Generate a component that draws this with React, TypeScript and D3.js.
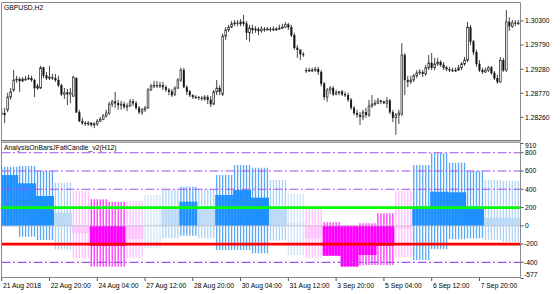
import React from "react";
import * as d3 from "d3";

// GBPUSD H2 candles: [open, high, low, close]
const gbpusdOHLC: [number, number, number, number][] = [
  [1.2835,1.2844,1.2829,1.2835],[1.2835,1.2846,1.2814,1.2831],[1.2842,1.2878,1.2837,1.2869],[1.2869,1.2888,1.2863,1.2880],
  [1.2884,1.2926,1.2880,1.2905],[1.2905,1.2914,1.2899,1.2907],[1.2907,1.2911,1.2880,1.2903],[1.2903,1.2911,1.2901,1.2907],
  [1.2907,1.2914,1.2903,1.2907],[1.2907,1.2916,1.2905,1.2909],[1.2909,1.2914,1.2901,1.2905],[1.2905,1.2907,1.2869,1.2888],
  [1.2888,1.2897,1.2884,1.2892],[1.2888,1.2935,1.2886,1.2931],[1.2931,1.2933,1.2909,1.2914],[1.2914,1.2922,1.2905,1.2909],
  [1.2909,1.2935,1.2905,1.2911],[1.2911,1.2918,1.2905,1.2909],[1.2909,1.2918,1.2901,1.2905],[1.2905,1.2914,1.2890,1.2894],
  [1.2894,1.2897,1.2871,1.2875],[1.2875,1.2888,1.2865,1.2878],[1.2878,1.2886,1.2852,1.2875],[1.2875,1.2888,1.2856,1.2878],
  [1.2871,1.2914,1.2869,1.2911],[1.2909,1.2911,1.2835,1.2837],[1.2837,1.2842,1.2816,1.2818],[1.2818,1.2825,1.2810,1.2814],
  [1.2814,1.2818,1.2808,1.2812],[1.2812,1.2818,1.2808,1.2814],[1.2814,1.2816,1.2806,1.2810],[1.2810,1.2816,1.2803,1.2812],
  [1.2812,1.2822,1.2808,1.2818],[1.2818,1.2827,1.2816,1.2822],[1.2822,1.2833,1.2820,1.2829],[1.2829,1.2842,1.2825,1.2835],
  [1.2835,1.2859,1.2831,1.2854],[1.2854,1.2863,1.2848,1.2859],[1.2859,1.2880,1.2846,1.2856],[1.2856,1.2863,1.2842,1.2852],
  [1.2852,1.2861,1.2842,1.2854],[1.2854,1.2859,1.2844,1.2848],[1.2848,1.2856,1.2839,1.2850],[1.2850,1.2865,1.2848,1.2859],
  [1.2859,1.2865,1.2850,1.2856],[1.2856,1.2861,1.2842,1.2846],[1.2846,1.2850,1.2833,1.2837],[1.2837,1.2846,1.2831,1.2842],
  [1.2842,1.2850,1.2837,1.2846],[1.2846,1.2888,1.2844,1.2884],[1.2884,1.2897,1.2882,1.2892],[1.2892,1.2903,1.2888,1.2894],
  [1.2894,1.2903,1.2888,1.2892],[1.2892,1.2901,1.2888,1.2894],[1.2894,1.2901,1.2884,1.2890],[1.2890,1.2894,1.2880,1.2884],
  [1.2884,1.2888,1.2873,1.2880],[1.2880,1.2886,1.2869,1.2873],[1.2875,1.2892,1.2871,1.2888],[1.2888,1.2909,1.2886,1.2905],
  [1.2905,1.2931,1.2901,1.2926],[1.2926,1.2931,1.2888,1.2890],[1.2890,1.2894,1.2873,1.2880],[1.2880,1.2884,1.2869,1.2873],
  [1.2873,1.2875,1.2865,1.2869],[1.2869,1.2873,1.2865,1.2869],[1.2869,1.2871,1.2863,1.2867],[1.2867,1.2871,1.2861,1.2865],
  [1.2865,1.2873,1.2861,1.2869],[1.2869,1.2873,1.2854,1.2863],[1.2863,1.2871,1.2848,1.2854],[1.2854,1.2884,1.2852,1.2880],
  [1.2880,1.2905,1.2873,1.2888],[1.2888,1.2894,1.2873,1.2880],[1.2875,1.3003,1.2871,1.2998],[1.2998,1.3017,1.2990,1.3011],
  [1.3011,1.3022,1.3007,1.3017],[1.3017,1.3030,1.3015,1.3024],[1.3024,1.3032,1.3019,1.3026],[1.3026,1.3032,1.3019,1.3024],
  [1.3024,1.3034,1.3019,1.3028],[1.3028,1.3043,1.3019,1.3024],[1.3024,1.3030,1.2990,1.3005],[1.3005,1.3022,1.2986,1.3015],
  [1.3015,1.3022,1.3003,1.3011],[1.3011,1.3019,1.3005,1.3013],[1.3013,1.3017,1.3000,1.3009],[1.3009,1.3019,1.3005,1.3013],
  [1.3013,1.3017,1.3007,1.3011],[1.3011,1.3017,1.3009,1.3013],[1.3013,1.3017,1.3007,1.3011],[1.3011,1.3019,1.3009,1.3013],
  [1.3013,1.3017,1.3009,1.3013],[1.3013,1.3022,1.3011,1.3015],[1.3015,1.3024,1.3013,1.3017],[1.3017,1.3028,1.3015,1.3022],
  [1.3022,1.3026,1.3011,1.3017],[1.3017,1.3022,1.2996,1.3000],[1.3000,1.3005,1.2969,1.2973],[1.2973,1.2979,1.2952,1.2969],
  [1.2969,1.2969,1.2947,1.2960],[1.2960,1.2964,1.2954,1.2958],[1.2926,1.2931,1.2920,1.2924],[1.2924,1.2931,1.2922,1.2926],
  [1.2926,1.2931,1.2922,1.2926],[1.2926,1.2933,1.2922,1.2928],[1.2928,1.2933,1.2916,1.2922],[1.2922,1.2926,1.2892,1.2897],
  [1.2897,1.2901,1.2863,1.2869],[1.2869,1.2888,1.2859,1.2884],[1.2884,1.2892,1.2875,1.2888],[1.2888,1.2892,1.2871,1.2875],
  [1.2875,1.2884,1.2873,1.2878],[1.2878,1.2882,1.2873,1.2880],[1.2880,1.2884,1.2871,1.2875],[1.2875,1.2880,1.2869,1.2873],
  [1.2873,1.2878,1.2859,1.2863],[1.2863,1.2867,1.2842,1.2846],[1.2846,1.2850,1.2831,1.2835],[1.2835,1.2842,1.2825,1.2831],
  [1.2831,1.2837,1.2810,1.2827],[1.2827,1.2842,1.2820,1.2837],[1.2837,1.2846,1.2825,1.2831],[1.2831,1.2863,1.2827,1.2850],
  [1.2850,1.2873,1.2846,1.2854],[1.2854,1.2863,1.2850,1.2856],[1.2856,1.2867,1.2854,1.2861],[1.2861,1.2863,1.2854,1.2859],
  [1.2859,1.2861,1.2854,1.2856],[1.2856,1.2869,1.2846,1.2861],[1.2861,1.2865,1.2833,1.2837],[1.2837,1.2842,1.2816,1.2825],
  [1.2825,1.2835,1.2789,1.2831],[1.2831,1.2842,1.2812,1.2835],[1.2833,1.2983,1.2829,1.2958],[1.2958,1.2962,1.2873,1.2905],
  [1.2905,1.2914,1.2890,1.2901],[1.2901,1.2914,1.2897,1.2905],[1.2905,1.2918,1.2901,1.2914],[1.2914,1.2926,1.2909,1.2920],
  [1.2920,1.2928,1.2916,1.2922],[1.2922,1.2926,1.2911,1.2918],[1.2918,1.2937,1.2914,1.2931],[1.2931,1.2958,1.2926,1.2941],
  [1.2941,1.2962,1.2926,1.2931],[1.2931,1.2952,1.2926,1.2939],[1.2939,1.2952,1.2935,1.2943],[1.2943,1.2947,1.2933,1.2937],
  [1.2937,1.2943,1.2926,1.2931],[1.2931,1.2935,1.2924,1.2928],[1.2928,1.2933,1.2922,1.2926],[1.2926,1.2931,1.2922,1.2924],
  [1.2924,1.2931,1.2922,1.2926],[1.2926,1.2937,1.2924,1.2931],[1.2931,1.2943,1.2926,1.2939],[1.2939,1.2954,1.2935,1.2947],
  [1.2947,1.3028,1.2943,1.3017],[1.3017,1.3022,1.2979,1.2986],[1.2986,1.2990,1.2958,1.2964],[1.2964,1.2969,1.2933,1.2939],
  [1.2939,1.2947,1.2922,1.2926],[1.2926,1.2931,1.2918,1.2922],[1.2922,1.2931,1.2920,1.2926],[1.2926,1.2935,1.2922,1.2931],
  [1.2931,1.2935,1.2916,1.2920],[1.2920,1.2924,1.2905,1.2909],[1.2909,1.2916,1.2897,1.2901],[1.2901,1.2954,1.2899,1.2947],
  [1.2947,1.2952,1.2922,1.2926],[1.2926,1.3053,1.2922,1.3028],[1.3028,1.3038,1.3009,1.3019],[1.3019,1.3032,1.3015,1.3026],
  [1.3026,1.3032,1.3019,1.3024],[1.3024,1.3032,1.3022,1.3026],
];

// AnalysisOnBarsJFatlCandle_v2 (H12 blocks, 6 H2 bars each)
const blockTone = ["SB","SB","SB","WB","WS","SS","SS","WS","FB","WB","SB","WB","SB","SB","SB","WB","FB","WS","SS","SS","SS","SS","WS","SB","SB","SB","SB","WB","WB"];
const blockBody = [556,465,326,143,-82,-221,-221,-145,15,195,264,195,337,392,308,205,38,-140,-327,-445,-320,-220,-30,209,373,367,209,89,89];
const blockHigh = [647,655,603,472,381,290,264,272,337,392,428,400,556,666,636,501,348,192,40,0,27,137,384,666,794,691,600,501,490];
const blockLow = [-5,-120,-155,-260,-356,-448,-448,-356,-246,-137,-108,-137,-265,-265,-301,-160,-320,-356,-330,-448,-429,-429,-345,-375,-254,-148,-137,-155,-174];

const priceTicks = [1.303, 1.2979, 1.2928, 1.2877, 1.2826];
const indTicks = [910, 800, 600, 400, 200, 0, -200, -400, -577];
const dashLevels = [800, 600, 400, -400];
const timeTicks: [number, string][] = [
  [0, "21 Aug 2018"], [16, "22 Aug 20:00"], [32, "24 Aug 04:00"], [48, "27 Aug 12:00"],
  [64, "28 Aug 20:00"], [80, "30 Aug 04:00"], [96, "31 Aug 12:00"], [112, "3 Sep 20:00"],
  [128, "5 Sep 04:00"], [144, "6 Sep 12:00"], [160, "7 Sep 20:00"],
];

const toneBody: Record<string, string> = { SB: "#1e90ff", WB: "#bcdaf7", FB: "#dceafa", WS: "#ffc6ff", SS: "#ff00ff" };
const toneWick: Record<string, string> = { SB: "#5aa8f5", WB: "#aed2f5", FB: "#d0e4f9", WS: "#ffbcff", SS: "#ff30ff" };

export default function App() {
  const W = 560, H = 294;
  const n = gbpusdOHLC.length;
  const x = d3.scaleLinear().domain([0, n - 1]).range([1.7, 1.7 + 2.986 * (n - 1)]);
  const yP = d3.scaleLinear().domain([1.2778, 1.30702]).range([140, 2]);
  const yI = d3.scaleLinear().domain([-577, 910]).range([278.5, 142.7]);
  const font = "'Liberation Sans', Arial, sans-serif";
  const fs = 6.8;
  const right = 520.5;

  return (
    <svg width={W} height={H} style={{ position: "absolute", left: 0, top: 0, background: "#fff" }}>
      <defs>
        <clipPath id="cpU"><rect x={1.5} y={2.5} width={right - 1.5} height={137.5} /></clipPath>
        <clipPath id="cpL"><rect x={1.5} y={143} width={right - 1.5} height={134.5} /></clipPath>
      </defs>
      <rect x={0} y={0} width={W} height={H} fill="#fff" />

      {/* upper pane candles */}
      <g clipPath="url(#cpU)">
        {gbpusdOHLC.map(([o, h, l, c], i) => {
          const cx = x(i);
          const bull = c >= o;
          const top = yP(Math.max(o, c));
          const bot = yP(Math.min(o, c));
          return (
            <g key={i}>
              <line x1={cx} x2={cx} y1={yP(h)} y2={yP(l)} stroke="#222" strokeWidth={0.85} />
              <rect x={cx - 0.85} y={top} width={1.7} height={Math.max(bot - top, 0.8)}
                fill={bull ? "#fff" : "#111"} stroke="#222" strokeWidth={bull ? 0.7 : 0.3} />
            </g>
          );
        })}
      </g>

      {/* lower pane histogram */}
      <g clipPath="url(#cpL)">
        {gbpusdOHLC.map((_, i) => {
          const b = Math.floor(i / 6);
          const cx = x(i);
          return (
            <line key={"w" + i} x1={cx} x2={cx} y1={yI(blockHigh[b])} y2={yI(blockLow[b])}
              stroke={toneWick[blockTone[b]]} strokeWidth={1.3} />
          );
        })}
        {gbpusdOHLC.map((_, i) => {
          const b = Math.floor(i / 6);
          const cx = x(i);
          const y0 = yI(0), y1 = yI(blockBody[b]);
          return (
            <rect key={"b" + i} x={cx - 1.5} width={3.05} y={Math.min(y0, y1)} height={Math.abs(y1 - y0)}
              fill={toneBody[blockTone[b]]} />
          );
        })}
        <line x1={1.5} x2={right} y1={yI(0)} y2={yI(0)} stroke="#b8b8b8" strokeOpacity={0.55} strokeWidth={1.2} />
        {dashLevels.map((v) => (
          <line key={v} x1={1.5} x2={right} y1={yI(v)} y2={yI(v)} stroke="#a352f0" strokeWidth={1.1}
            strokeDasharray="9 2.5 2 2.5" />
        ))}
        <line x1={1.5} x2={right} y1={yI(200)} y2={yI(200)} stroke="#00ff00" strokeWidth={2.8} />
        <line x1={1.5} x2={right} y1={yI(-200)} y2={yI(-200)} stroke="#ff0000" strokeWidth={2.8} />
      </g>

      {/* frames */}
      <line x1={1.5} x2={right} y1={2.5} y2={2.5} stroke="#8a8a8a" />
      <line x1={1.5} x2={1.5} y1={2.5} y2={277.5} stroke="#8a8a8a" />
      <line x1={right} x2={right} y1={2.5} y2={277.5} stroke="#8a8a8a" />
      <rect x={1} y={140} width={right - 0.5} height={3} fill="#c4c4c4" />
      <line x1={1} x2={right} y1={140.5} y2={140.5} stroke="#7a7a7a" />
      <line x1={1} x2={right} y1={142.5} y2={142.5} stroke="#9a9a9a" />
      <line x1={1.5} x2={right} y1={277.5} y2={277.5} stroke="#8a8a8a" />

      {/* titles */}
      <text x={4} y={9.5} fontFamily={font} fontSize={fs} fill="#000">GBPUSD,H2</text>
      <text x={4} y={150.2} fontFamily={font} fontSize={fs} fill="#000">AnalysisOnBarsJFatlCandle_v2(H12)</text>

      {/* price axis */}
      {priceTicks.map((p) => (
        <g key={p}>
          <line x1={right} x2={523.5} y1={yP(p)} y2={yP(p)} stroke="#555" />
          <text x={525} y={yP(p) + 2.4} fontFamily={font} fontSize={fs} fill="#000">{p.toFixed(5)}</text>
        </g>
      ))}

      {/* indicator axis */}
      {indTicks.map((v) => {
        const yy = yI(v);
        const ly = Math.min(Math.max(yy, 145.8), 274.6);
        return (
          <g key={v}>
            <line x1={right} x2={523.5} y1={Math.max(yy, 143.5)} y2={Math.max(yy, 143.5)} stroke="#555" />
            <text x={v < 0 ? 524 : 525} y={ly + 2.4} fontFamily={font} fontSize={fs} fill="#000">{v}</text>
          </g>
        );
      })}

      {/* time axis */}
      {timeTicks.map(([i, lab]) => (
        <g key={lab}>
          <line x1={x(i)} x2={x(i)} y1={277.5} y2={281} stroke="#555" />
          <text x={x(i) + 1.2} y={288.3} fontFamily={font} fontSize={fs} fill="#000">{lab}</text>
        </g>
      ))}
    </svg>
  );
}
